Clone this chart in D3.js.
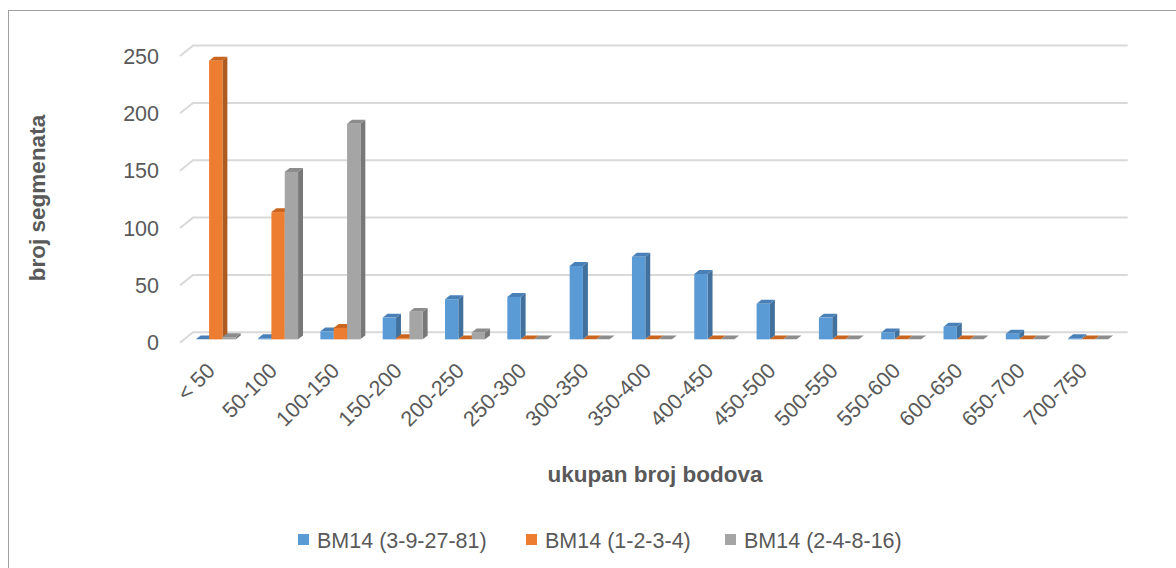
<!DOCTYPE html>
<html><head><meta charset="utf-8">
<script src="https://cdn.jsdelivr.net/npm/d3@7"></script>
<style>body{margin:0;background:#fff}svg{display:block}</style>
</head><body>
<svg id="c" width="1176" height="568"></svg>
<script>
const categories = ["< 50","50-100","100-150","150-200","200-250","250-300","300-350","350-400","400-450","450-500","500-550","550-600","600-650","650-700","700-750"];
const seriesNames = ["BM14 (3-9-27-81)","BM14 (1-2-3-4)","BM14 (2-4-8-16)"];
const blueValues   = [0, 1, 7, 19, 35, 37, 64, 72, 57, 31, 19, 6, 11, 5, 1];
const orangeValues = [243, 111, 10, 1, 0, 0, 0, 0, 0, 0, 0, 0, 0, 0, 0];
const grayValues   = [2, 146, 188, 24, 6, 0, 0, 0, 0, 0, 0, 0, 0, 0, 0];
const yTicks = [0, 50, 100, 150, 200, 250];
const colors = ["#5B9BD5", "#ED7D31", "#A5A5A5"];
const sideColors = ["#41719C", "#AE5A21", "#787878"];
const topColors = ["#4A80B8", "#C9651F", "#8C8C8C"];

const svg = d3.select("#c");
const font = "'Liberation Sans', Arial, sans-serif";
const txt = "#595959";

// border
svg.append("rect").attr("x", 8.5).attr("y", 10.5).attr("width", 2000).attr("height", 2000)
  .attr("fill", "none").attr("stroke", "#a0a0a0").attr("stroke-width", 1);

// 3D geometry
const frontLeft = 180, frontRight = 1114.7;
const depthX = 13, depthY = -10.4;
const y = d3.scaleLinear().domain([0, 250]).range([342.7, 56]);
const x0 = d3.scaleBand().domain(categories).range([frontLeft, frontRight]).paddingInner(0).paddingOuter(0);
const x1 = d3.scaleBand().domain([0,1,2]).range([11.6, 11.6 + 40]);
const bf = 0.32, bd = 0.38; // bar front depth fraction, bar depth fraction
const offX = depthX * bf, offY = depthY * bf;
const bdx = depthX * bd, bdy = depthY * bd;

// gridlines
const g = svg.append("g");
yTicks.forEach(t => {
  const yf = y(t);
  g.append("path")
    .attr("d", `M${frontLeft},${yf} L${frontLeft + depthX},${yf + depthY} L${frontRight + depthX},${yf + depthY}`)
    .attr("fill", "none").attr("stroke", "#d9d9d9").attr("stroke-width", 2);
  svg.append("text").attr("x", 159).attr("y", yf).attr("dy", "0.35em")
    .attr("text-anchor", "end").attr("font-family", font).attr("font-size", 21.5)
    .attr("fill", txt).text(t);
});

// bars
const all = [blueValues, orangeValues, grayValues];
const bars = svg.append("g");
categories.forEach((c, i) => {
  all.forEach((vals, s) => {
    const v = vals[i];
    const xl = x0(c) + x1(s) + offX;
    const w = x1.bandwidth();
    const yb = y(0) + offY;
    const yt = y(v) + offY;
    // side face
    bars.append("path")
      .attr("d", `M${xl + w},${yt} L${xl + w + bdx},${yt + bdy} L${xl + w + bdx},${yb + bdy} L${xl + w},${yb} Z`)
      .attr("fill", sideColors[s]);
    // top face
    bars.append("path")
      .attr("d", `M${xl},${yt} L${xl + bdx},${yt + bdy} L${xl + w + bdx},${yt + bdy} L${xl + w},${yt} Z`)
      .attr("fill", topColors[s]);
    // front face
    bars.append("rect").attr("x", xl).attr("y", yt).attr("width", w).attr("height", Math.max(0, yb - yt))
      .attr("fill", colors[s]);
  });
});

// x labels
categories.forEach(c => {
  const cx = x0(c) + x0.bandwidth() / 2 + 5;
  const cy = 372;
  svg.append("text").attr("transform", `translate(${cx},${cy}) rotate(-45)`)
    .attr("text-anchor", "end").attr("font-family", font).attr("font-size", 21.5)
    .attr("fill", txt).text(c);
});

// axis titles
svg.append("text").attr("transform", "translate(45,198) rotate(-90)")
  .attr("text-anchor", "middle").attr("font-family", font).attr("font-weight", "bold")
  .attr("font-size", 22.5).attr("fill", txt).text("broj segmenata");
svg.append("text").attr("x", 655).attr("y", 482)
  .attr("text-anchor", "middle").attr("font-family", font).attr("font-weight", "bold")
  .attr("font-size", 22.5).attr("fill", txt).text("ukupan broj bodova");

// legend
const legendX = [298, 526, 725];
seriesNames.forEach((n, s) => {
  svg.append("rect").attr("x", legendX[s]).attr("y", 534).attr("width", 11).attr("height", 11).attr("fill", colors[s]);
  svg.append("text").attr("x", legendX[s] + 19).attr("y", 548)
    .attr("font-family", font).attr("font-size", 21.5).attr("fill", txt).text(n);
});
</script>
</body></html>
